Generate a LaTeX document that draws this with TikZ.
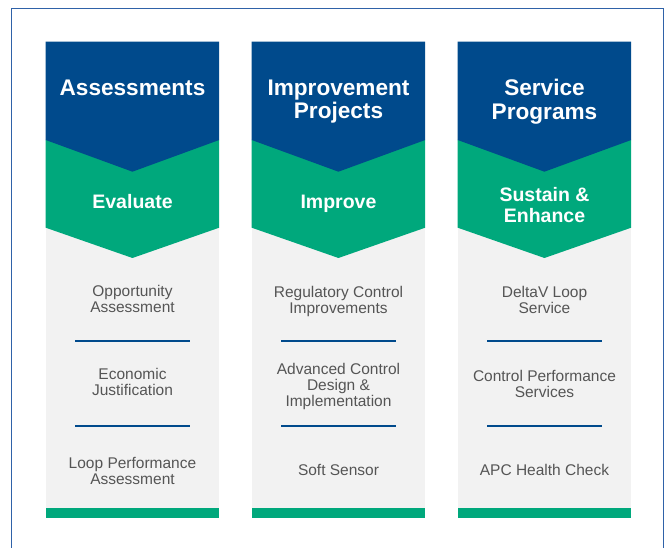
\documentclass[tikz,border=0pt]{standalone}
\usepackage{fontspec}
\setmainfont{Liberation Sans}
\definecolor{eblue}{HTML}{004A8C}
\definecolor{egreen}{HTML}{00A87C}
\definecolor{egray}{HTML}{F2F2F2}
\definecolor{etext}{HTML}{555555}
\definecolor{eframe}{HTML}{2F62A8}
\begin{document}
\begin{tikzpicture}[x=1pt,y=-1pt,
  headtxt/.style={text=white,font=\bfseries\fontsize{22.6}{23.5}\selectfont,align=center,inner sep=0pt},
  subtxt/.style={text=white,font=\bfseries\fontsize{19.5}{20.5}\selectfont,align=center,inner sep=0pt},
  bodytxt/.style={text=etext,font=\fontsize{15.5}{16}\selectfont,align=center,inner sep=0pt},
  sepline/.style={draw=eblue,line width=2pt}]
\useasboundingbox (0,0) rectangle (665,548);
\fill[white] (0,0) rectangle (665,548);
\draw[eframe,line width=0.9pt] (11.7,560) -- (11.7,8.6) -- (663.6,8.6) -- (663.6,560);
\foreach \X in {45.7,251.7,457.7}{
  \fill[egray] (\X,41.7) rectangle (\X+173.5,508.3);
  \fill[egreen] (\X,508.3) rectangle (\X+173.5,518.3);
  \fill[egreen] (\X,140) -- (\X+173.5,140) -- (\X+173.5,227.7) -- (\X+86.75,258) -- (\X,227.7) -- cycle;
  \fill[eblue] (\X,41.7) -- (\X+173.5,41.7) -- (\X+173.5,140) -- (\X+86.75,171.7) -- (\X,140) -- cycle;
  \draw[sepline] (\X+29.3,341) -- (\X+144.3,341);
  \draw[sepline] (\X+29.3,426) -- (\X+144.3,426);
}
% headers
\node[headtxt] (h1) at (132.5,87.5) {Assessments};
\node[headtxt] (h2) at (338.5,101.5) {Improvement\\Projects};
\node[headtxt] (h3) at (544.5,101.5) {Service\\Programs};
\node[subtxt] (s1) at (132.5,201.5) {Evaluate};
\node[subtxt] (s2) at (338.5,204) {Improve};
\node[subtxt] (s3) at (544.5,205) {Sustain \&\\Enhance};
% body column 1
\node[bodytxt] (a1) at (132.5,299) {Opportunity\\Assessment};
\node[bodytxt] (a2) at (132.5,381.5) {Economic\\Justification};
\node[bodytxt] (a3) at (132.5,470.5) {Loop Performance\\Assessment};
% body column 2
\node[bodytxt] (b1) at (338.5,301) {Regulatory Control\\Improvements};
\node[bodytxt] (b2) at (338.5,386) {Advanced Control\\Design \&\\Implementation};
\node[bodytxt] (b3) at (338.5,470) {Soft Sensor};
% body column 3
\node[bodytxt] (c1) at (544.5,299.5) {DeltaV Loop\\Service};
\node[bodytxt] (c2) at (544.5,384) {Control Performance\\Services};
\node[bodytxt] (c3) at (544.5,470) {APC Health Check};
\end{tikzpicture}
\end{document}
